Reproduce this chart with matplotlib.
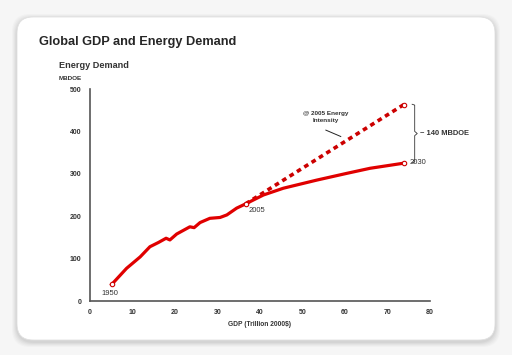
import matplotlib
matplotlib.use("Agg")
import matplotlib.pyplot as plt
from matplotlib.patches import FancyBboxPatch

plt.rcParams["font.family"] = ["Liberation Sans", "DejaVu Sans"]

# data
gdp = [5.1, 8.6, 11.8, 14.1, 16.1, 17.9, 18.8, 20.4, 23.5, 24.5, 25.9, 28.2, 30.6, 32.2, 34.5, 36.6,
       40.8, 45.5, 53.3, 60.4, 65.9, 73.8]
energy = [39, 77, 104, 128, 138, 148, 144, 158, 175, 173, 185, 195, 197, 203, 219, 229,
          250, 266, 285, 301, 313, 325]
proj_gdp = [36.6, 73.8]
proj_energy = [229, 463]
x_ticks = [0, 10, 20, 30, 40, 50, 60, 70, 80]
y_ticks = [0, 100, 200, 300, 400, 500]

W, H = 512, 355
fig = plt.figure(figsize=(W / 100, H / 100), dpi=100)
fig.patch.set_facecolor("#f6f6f6")

bg = fig.add_axes([0, 0, 1, 1])
bg.set_xlim(0, W)
bg.set_ylim(H, 0)
bg.axis("off")
# soft shadow
for i, a in enumerate([0.04, 0.05, 0.06, 0.07, 0.08]):
    d = 5 - i
    bg.add_patch(FancyBboxPatch((17 - d, 17 - d + 2), 478 + 2 * d, 323 + 2 * d,
                                boxstyle="round,pad=0,rounding_size=18",
                                fc="#808080", ec="none", alpha=a))
bg.add_patch(FancyBboxPatch((17, 17), 478, 323, boxstyle="round,pad=0,rounding_size=16",
                            fc="white", ec="#e0e0e0", lw=0.6))

fig.text(39 / W, 1 - 42 / H, "Global GDP and Energy Demand", fontsize=9.2, fontweight="bold",
         color="#262626", va="center", ha="left")
fig.text(59 / W, 1 - 65 / H, "Energy Demand", fontsize=6.6, fontweight="bold",
         color="#333333", va="center", ha="left")
fig.text(59 / W, 1 - 78 / H, "MBDOE", fontsize=4.6, fontweight="bold",
         color="#333333", va="center", ha="left")

ax = fig.add_axes([90 / W, 1 - 301 / H, 340 / W, 212 / H])
ax.set_xlim(0, 80)
ax.set_ylim(0, 500)
ax.patch.set_alpha(0)
for s in ["top", "right"]:
    ax.spines[s].set_visible(False)
for s in ["left", "bottom"]:
    ax.spines[s].set_color("#555555")
    ax.spines[s].set_linewidth(1.2)
ax.set_xticks(x_ticks)
ax.set_yticks(y_ticks)
ax.tick_params(length=0, labelsize=5.0, labelcolor="#333333", pad=6)
for lab in ax.get_xticklabels() + ax.get_yticklabels():
    lab.set_fontweight("bold")
ax.set_xlabel("GDP (Trillion 2000$)", fontsize=4.8, fontweight="bold", color="#333333", labelpad=3)

ax.plot(proj_gdp, proj_energy, color="#cc0000", lw=2.6, ls=(0, (1.3, 1.1)), solid_capstyle="butt",
        zorder=2)
ax.plot(gdp, energy, color="#e00000", lw=2.3, solid_joinstyle="round", zorder=3)
ax.plot([gdp[0], gdp[15], gdp[-1], proj_gdp[-1]], [energy[0], energy[15], energy[-1], proj_energy[-1]],
        ls="none", marker="o", ms=3.2, mfc="white", mec="#cc0000", mew=0.8, zorder=4)

ax.text(gdp[0] - 0.5, energy[0] - 12, "1950", fontsize=5.5, color="#333333", ha="center", va="top")
ax.text(gdp[15] + 0.6, energy[15] - 8, "2005", fontsize=5.5, color="#333333", ha="left", va="top")
ax.text(gdp[-1] + 1.5, energy[-1] + 2, "2030", fontsize=5.5, color="#333333", ha="left", va="center")
ax.text(55.4, 448, "@ 2005 Energy\nIntensity", fontsize=4.6, fontweight="bold", color="#333333",
        ha="center", va="top", linespacing=1.5)
ax.plot([55.5, 59.0], [403, 388], color="#222222", lw=0.7)

# brace
bx = 76.4
ax.plot([bx - 0.6, bx, bx, bx + 0.6, bx, bx, bx - 0.6],
        [464, 462, 400, 395, 390, 328, 326], color="#333333", lw=0.6, clip_on=False)
ax.text(bx + 1.3, 395, "~ 140 MBDOE", fontsize=5.4, fontweight="bold", color="#333333",
        ha="left", va="center")

fig.savefig("out.png", dpi=100, facecolor=fig.get_facecolor())
